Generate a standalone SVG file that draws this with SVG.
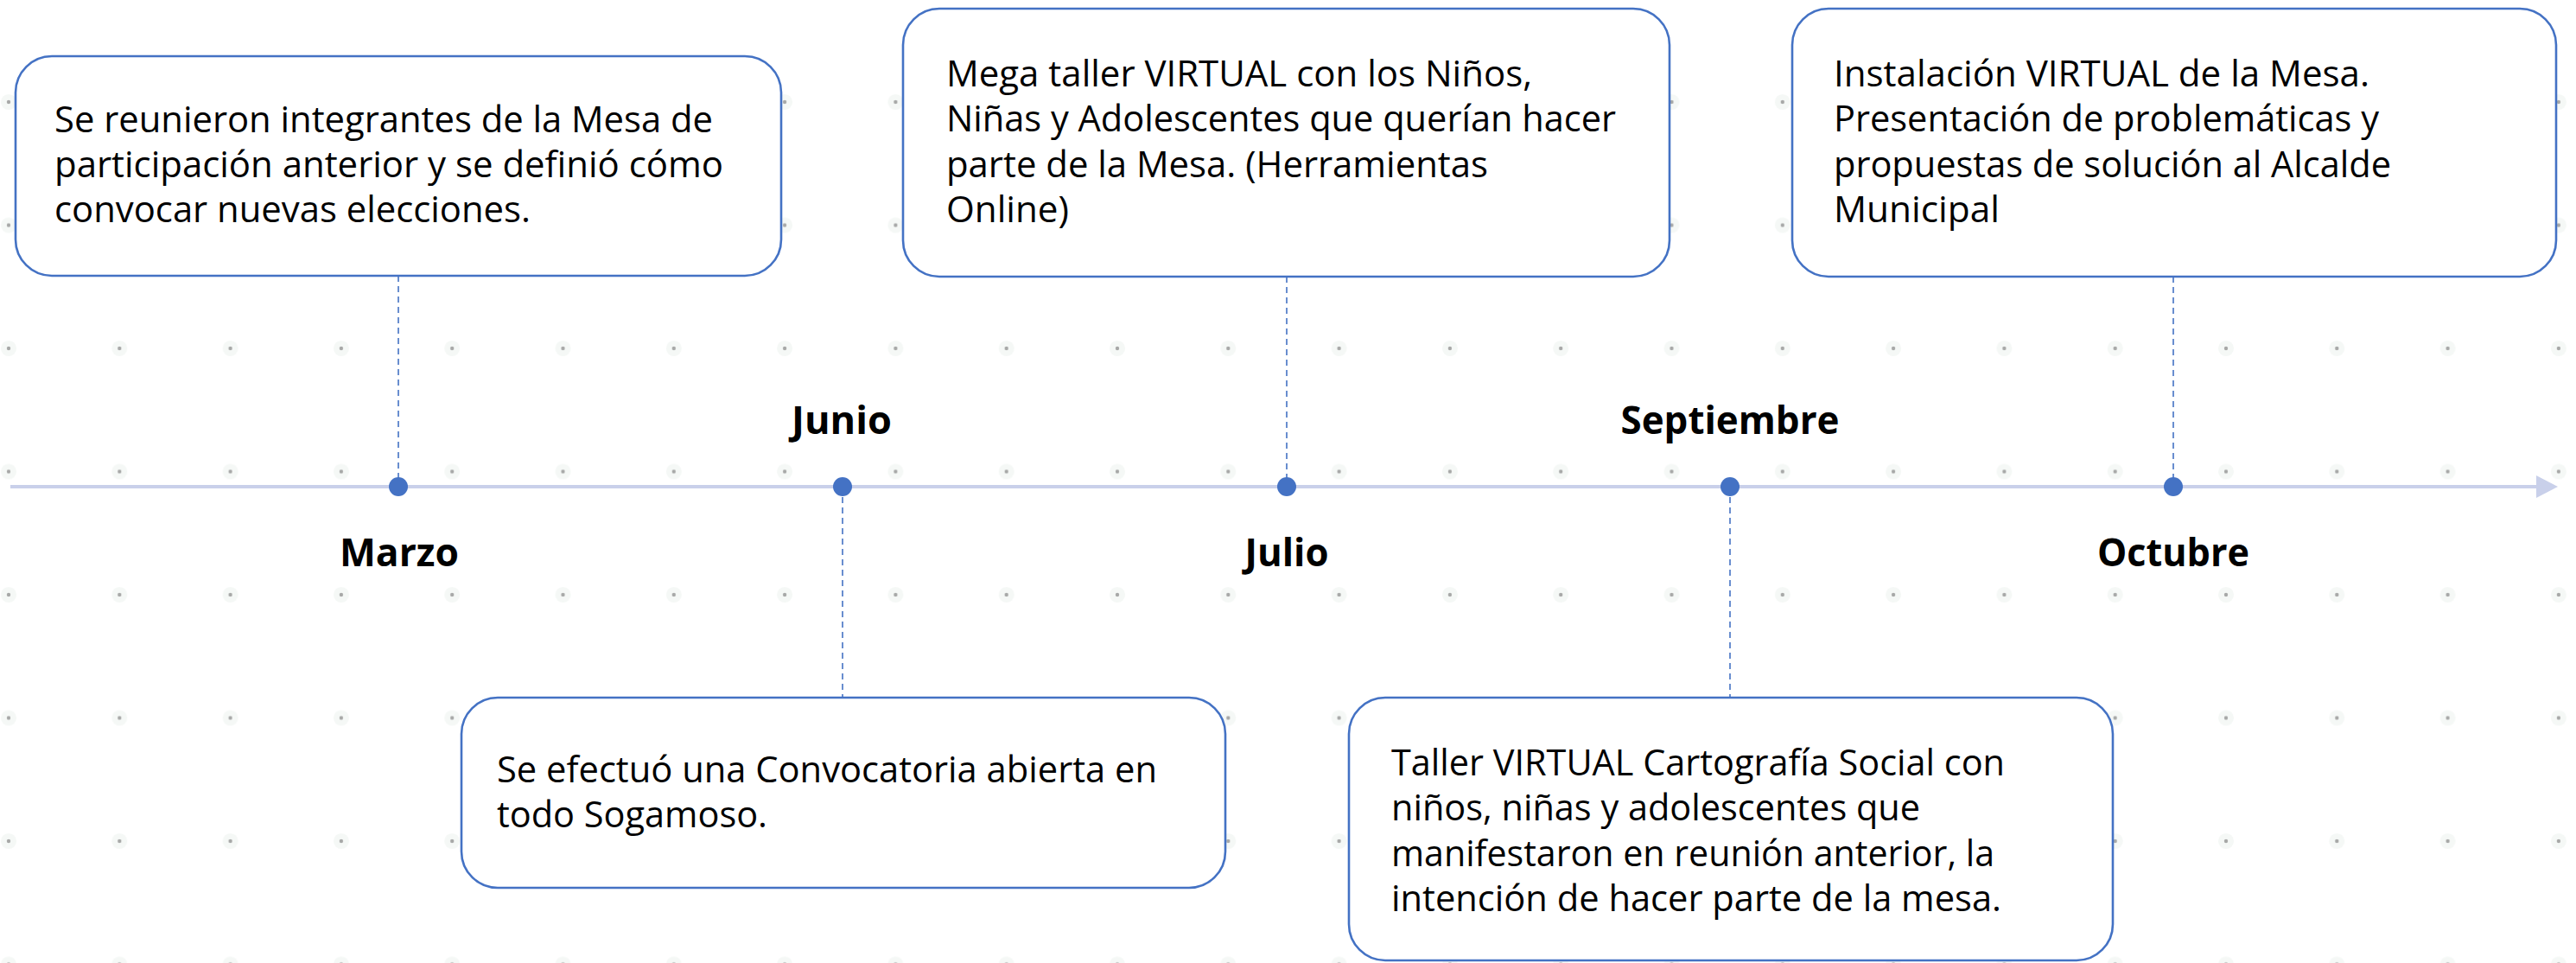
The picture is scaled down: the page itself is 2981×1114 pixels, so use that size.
<svg xmlns="http://www.w3.org/2000/svg" xmlns:xlink="http://www.w3.org/1999/xlink" width="2981" height="1114" viewBox="0 0 2981 1114">
<style>
.box{fill:#fff;stroke:#4472C4;stroke-width:2.6}
.t{font-family:"Open Sans","Liberation Sans",sans-serif;font-size:42px;fill:#000}
.m{font-family:"Open Sans","Liberation Sans",sans-serif;font-size:44px;font-weight:bold;fill:#000;text-anchor:middle}
.dash{stroke:#4472C4;stroke-width:1.6;stroke-dasharray:7 5;fill:none}
.ev{fill:#4472C4}
.gd{fill:#8c8c8c;opacity:0.75}
.gh{fill:#eef3f0;opacity:0.6}
</style>
<defs>
<pattern id="grid" x="10" y="118" width="128.3" height="142.5" patternUnits="userSpaceOnUse">
<circle cx="0" cy="0" r="9" class="gh"/>
<circle cx="128.3" cy="0" r="9" class="gh"/>
<circle cx="0" cy="142.5" r="9" class="gh"/>
<circle cx="128.3" cy="142.5" r="9" class="gh"/>
<circle cx="0" cy="0" r="2.2" class="gd"/>
<circle cx="128.3" cy="0" r="2.2" class="gd"/>
<circle cx="0" cy="142.5" r="2.2" class="gd"/>
<circle cx="128.3" cy="142.5" r="2.2" class="gd"/>
</pattern>
</defs>
<rect x="0" y="0" width="2981" height="1114" fill="#fff"/>
<rect x="0" y="0" width="2981" height="1114" fill="url(#grid)"/>

<g id="connectors">
<line x1="12" y1="563" x2="2936" y2="563" stroke="#C9D0EA" stroke-width="4"/>
<polygon points="2935,550 2960,563 2935,576" fill="#C9D0EA"/>
<line class="dash" x1="461" y1="319" x2="461" y2="563"/>
<line class="dash" x1="975" y1="563" x2="975" y2="807"/>
<line class="dash" x1="1489" y1="320" x2="1489" y2="563"/>
<line class="dash" x1="2002" y1="563" x2="2002" y2="807"/>
<line class="dash" x1="2515" y1="320" x2="2515" y2="563"/>
</g>

<g id="marzo">
<circle class="ev" cx="461" cy="563" r="11"/>
<text class="m" x="462" y="655" textLength="138" lengthAdjust="spacingAndGlyphs">Marzo</text>
<rect class="box" x="18" y="65" width="886" height="254" rx="42"/>
<text class="t" x="63" y="153" textLength="762" lengthAdjust="spacingAndGlyphs">Se reunieron integrantes de la Mesa de</text>
<text class="t" x="63" y="205" textLength="774" lengthAdjust="spacingAndGlyphs">participación anterior y se definió cómo</text>
<text class="t" x="63" y="257" textLength="551" lengthAdjust="spacingAndGlyphs">convocar nuevas elecciones.</text>
</g>

<g id="junio">
<circle class="ev" cx="975" cy="563" r="11"/>
<text class="m" x="974" y="502" textLength="116" lengthAdjust="spacingAndGlyphs">Junio</text>
<rect class="box" x="534" y="807" width="884" height="220" rx="42"/>
<text class="t" x="575" y="905" textLength="764" lengthAdjust="spacingAndGlyphs">Se efectuó una Convocatoria abierta en</text>
<text class="t" x="575" y="957" textLength="313" lengthAdjust="spacingAndGlyphs">todo Sogamoso.</text>
</g>

<g id="julio">
<circle class="ev" cx="1489" cy="563" r="11"/>
<text class="m" x="1489" y="655" textLength="97" lengthAdjust="spacingAndGlyphs">Julio</text>
<rect class="box" x="1045" y="10" width="887" height="310" rx="42"/>
<text class="t" x="1095" y="100" textLength="678" lengthAdjust="spacingAndGlyphs">Mega taller VIRTUAL con los Niños,</text>
<text class="t" x="1095" y="152" textLength="775" lengthAdjust="spacingAndGlyphs">Niñas y Adolescentes que querían hacer</text>
<text class="t" x="1095" y="205" textLength="627" lengthAdjust="spacingAndGlyphs">parte de la Mesa. (Herramientas</text>
<text class="t" x="1095" y="257" textLength="142" lengthAdjust="spacingAndGlyphs">Online)</text>
</g>

<g id="septiembre">
<circle class="ev" cx="2002" cy="563" r="11"/>
<text class="m" x="2002" y="502" textLength="253" lengthAdjust="spacingAndGlyphs">Septiembre</text>
<rect class="box" x="1561" y="807" width="884" height="304" rx="42"/>
<text class="t" x="1610" y="897" textLength="710" lengthAdjust="spacingAndGlyphs">Taller VIRTUAL Cartografía Social con</text>
<text class="t" x="1610" y="949" textLength="612" lengthAdjust="spacingAndGlyphs">niños, niñas y adolescentes que</text>
<text class="t" x="1610" y="1002" textLength="698" lengthAdjust="spacingAndGlyphs">manifestaron en reunión anterior, la</text>
<text class="t" x="1610" y="1054" textLength="706" lengthAdjust="spacingAndGlyphs">intención de hacer parte de la mesa.</text>
</g>

<g id="octubre">
<circle class="ev" cx="2515" cy="563" r="11"/>
<text class="m" x="2515" y="655" textLength="176" lengthAdjust="spacingAndGlyphs">Octubre</text>
<rect class="box" x="2074" y="10" width="884" height="310" rx="42"/>
<text class="t" x="2122" y="100" textLength="620" lengthAdjust="spacingAndGlyphs">Instalación VIRTUAL de la Mesa.</text>
<text class="t" x="2122" y="152" textLength="631" lengthAdjust="spacingAndGlyphs">Presentación de problemáticas y</text>
<text class="t" x="2122" y="205" textLength="645" lengthAdjust="spacingAndGlyphs">propuestas de solución al Alcalde</text>
<text class="t" x="2122" y="257" textLength="192" lengthAdjust="spacingAndGlyphs">Municipal</text>
</g>
</svg>
